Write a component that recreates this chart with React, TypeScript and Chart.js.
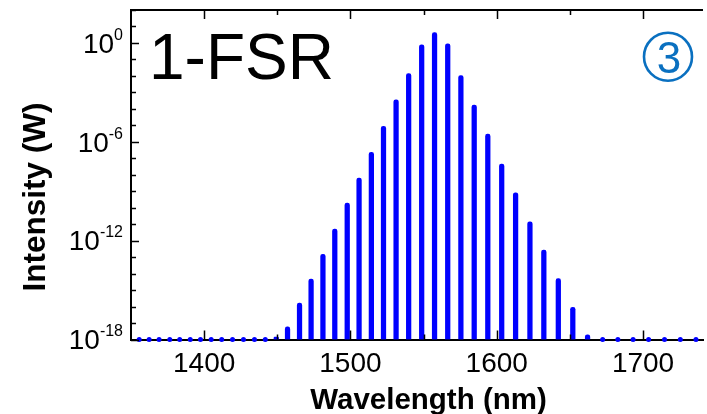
import React, { useEffect, useRef } from 'react';
import { Chart, registerables } from 'chart.js';

Chart.register(...registerables);

// Comb line positions (nm) and their optical power (W)
const combWavelengths = [
  1355.6, 1362.4, 1369.2, 1376.5, 1383.3, 1390.5, 1397.5, 1404.8, 1412.0, 1419.4,
  1426.9, 1434.4, 1441.8, 1449.3, 1457.0, 1465.2, 1473.1, 1481.2, 1489.3, 1497.8,
  1505.9, 1514.3, 1522.6, 1531.2, 1539.8, 1548.7, 1557.5, 1566.5, 1575.5, 1584.6,
  1593.9, 1603.4, 1612.9, 1622.7, 1632.2, 1642.1, 1652.0, 1662.1, 1672.4, 1682.8,
  1693.2, 1703.8, 1714.7, 1725.5, 1736.2,
];
const combIntensity = [
  1e-18, 1e-18, 1e-18, 1e-18, 1e-18, 1e-18, 1e-18, 1e-18, 1e-18, 1e-18,
  1e-18, 1e-18, 1e-18, 1.4e-18, 5.8e-18, 1.6e-16, 4.7e-15, 1.5e-13, 5.1e-12, 1.9e-10,
  6.3e-9, 2.3e-7, 8.7e-6, 3.5e-4, 1.4e-2, 0.78, 4.2, 0.89, 1.05e-2, 1.7e-4,
  2.9e-6, 4.5e-8, 8.1e-10, 1.4e-11, 2.7e-13, 4.9e-15, 8.9e-17, 1.9e-18, 1e-18, 1e-18,
  1e-18, 1e-18, 1e-18, 1e-18, 1e-18,
];

// Axis ranges and ticks
const xMin = 1350;
const xMax = 1741;
const yMin = 1e-18;
const yMax = 1e2;
const xLabelTicks = [1400, 1500, 1600, 1700];
const xMinorTicks = [1450, 1550, 1650];
const yLabelExponents = [0, -6, -12, -18];
const yDecadeExponents = [-18, -17, -16, -15, -14, -13, -12, -11, -10, -9, -8, -7, -6, -5, -4, -3, -2, -1, 0, 1, 2];

const xTitle = 'Wavelength (nm)';
const yTitle = 'Intensity (W)';
const panelTag = '1-FSR';
const panelNumber = '3';

const LINE_BLUE = '#0000ff';
const BADGE_BLUE = '#0a70c0';
const FONT = '"Liberation Sans", Arial, Helvetica, sans-serif';

const frame = {
  id: 'frame',
  afterDraw(chart: any) {
    const { ctx, chartArea } = chart;
    const xs = chart.scales.x;
    const ys = chart.scales.y;
    const { left, right, top, bottom } = chartArea;
    ctx.save();

    // top border of the plot box
    ctx.strokeStyle = '#000';
    ctx.lineWidth = 2;
    ctx.beginPath();
    ctx.moveTo(left - 1, top);
    ctx.lineTo(right, top);
    ctx.stroke();

    // inward tick marks
    ctx.lineWidth = 1.5;
    const xTick = (v: number, len: number) => {
      const px = Math.round(xs.getPixelForValue(v)) + 0.5;
      ctx.beginPath();
      ctx.moveTo(px, bottom);
      ctx.lineTo(px, bottom - len);
      ctx.moveTo(px, top);
      ctx.lineTo(px, top + len);
      ctx.stroke();
    };
    xLabelTicks.forEach((v) => xTick(v, 9));
    xMinorTicks.forEach((v) => xTick(v, 5));
    yDecadeExponents.forEach((e) => {
      const py = Math.round(ys.getPixelForValue(Math.pow(10, e))) + 0.5;
      const len = e % 6 === 0 ? 8 : 5;
      ctx.beginPath();
      ctx.moveTo(left, py);
      ctx.lineTo(left + len, py);
      ctx.stroke();
    });

    // x tick labels
    ctx.fillStyle = '#000';
    ctx.font = `28px ${FONT}`;
    ctx.textAlign = 'center';
    ctx.textBaseline = 'alphabetic';
    xLabelTicks.forEach((v) => {
      ctx.fillText(String(v), xs.getPixelForValue(v), 371.7);
    });

    // y tick labels as powers of ten
    yLabelExponents.forEach((e) => {
      const py = ys.getPixelForValue(Math.pow(10, e));
      ctx.font = `28px ${FONT}`;
      const wb = ctx.measureText('10').width;
      ctx.font = `16px ${FONT}`;
      const we = ctx.measureText(String(e)).width;
      const x0 = 123 - wb - we;
      ctx.textAlign = 'left';
      ctx.font = `28px ${FONT}`;
      ctx.fillText('10', x0, py + 9.8);
      ctx.font = `16px ${FONT}`;
      ctx.fillText(String(e), x0 + wb, py - 3.3);
    });

    // axis titles
    ctx.font = `bold 29.5px ${FONT}`;
    ctx.textAlign = 'center';
    ctx.fillText(xTitle, 428.5, 409);
    ctx.save();
    ctx.translate(45, 197);
    ctx.rotate(-Math.PI / 2);
    ctx.font = `bold 31.5px ${FONT}`;
    ctx.fillText(yTitle, 0, 0);
    ctx.restore();

    // panel tag
    ctx.font = `64px ${FONT}`;
    ctx.textAlign = 'left';
    ctx.fillText(panelTag, 149, 79.3);

    // circled panel number
    ctx.strokeStyle = BADGE_BLUE;
    ctx.lineWidth = 2.6;
    ctx.beginPath();
    ctx.arc(668, 56.7, 24, 0, Math.PI * 2);
    ctx.stroke();
    ctx.fillStyle = BADGE_BLUE;
    ctx.font = `44px ${FONT}`;
    ctx.textAlign = 'center';
    ctx.fillText(panelNumber, 669, 73.3);

    ctx.restore();
  },
};

export default function App() {
  const canvasRef = useRef<HTMLCanvasElement>(null);

  useEffect(() => {
    const canvas = canvasRef.current;
    if (!canvas) return;
    const bars = combWavelengths.map((x, i) => ({ x, y: combIntensity[i] }));
    const floorDots = combWavelengths
      .map((x, i) => ({ x, y: combIntensity[i] }))
      .filter((p) => p.y <= yMin)
      .map((p) => ({ x: p.x, y: yMin }));

    const chart = new Chart(canvas, {
      type: 'bar',
      data: {
        datasets: [
          {
            type: 'bar',
            label: 'Comb lines',
            data: bars,
            backgroundColor: LINE_BLUE,
            borderWidth: 0,
            barThickness: 4.6,
            borderRadius: 2.3,
          } as any,
          {
            type: 'line',
            label: 'Floor',
            data: floorDots,
            showLine: false,
            pointRadius: 2.5,
            pointBorderWidth: 0,
            pointBackgroundColor: LINE_BLUE,
            clip: false,
          } as any,
        ],
      },
      options: {
        responsive: false,
        animation: false,
        events: [],
        layout: { padding: { top: 10, right: 0, bottom: 0, left: 0 } },
        plugins: { legend: { display: false }, tooltip: { enabled: false } },
        scales: {
          x: {
            type: 'linear',
            position: 'bottom',
            min: xMin,
            max: xMax,
            offset: false,
            grid: { display: false },
            border: { display: true, color: '#000', width: 2 },
            ticks: { display: false },
            afterFit: (s: any) => {
              s.height = 74.5;
            },
          },
          y: {
            type: 'logarithmic',
            min: yMin,
            max: yMax,
            grid: { display: false },
            border: { display: true, color: '#000', width: 2 },
            ticks: { display: false },
            afterFit: (s: any) => {
              s.width = 131;
            },
          },
        },
      } as any,
      plugins: [frame],
    });
    return () => chart.destroy();
  }, []);

  return (
    <div style={{ position: 'absolute', left: 0, top: 0, width: 707, height: 414, background: '#fff' }}>
      <canvas ref={canvasRef} width={707} height={414} style={{ display: 'block' }} />
    </div>
  );
}
